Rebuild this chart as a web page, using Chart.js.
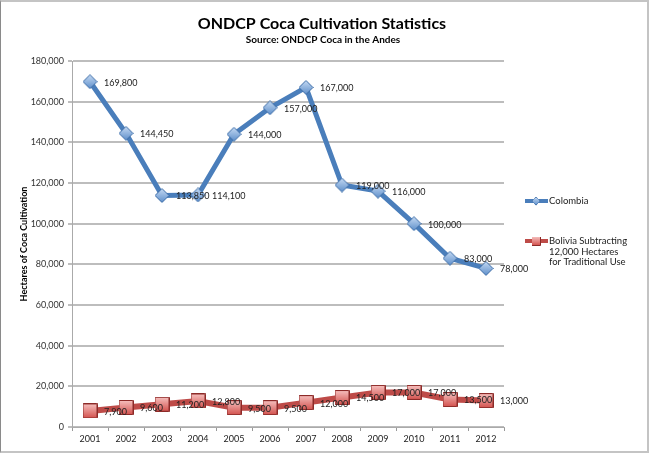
<!DOCTYPE html>
<html>
<head>
<meta charset="utf-8">
<script src="https://cdn.jsdelivr.net/npm/chart.js@4.4.0/dist/chart.umd.min.js"></script>
<style>
html, body { margin: 0; padding: 0; background: #fff; }
#wrap { position: relative; width: 649px; height: 453px; }
#frame {
    position: absolute; left: 0; top: 0; width: 649px; height: 453px;
    box-sizing: border-box; border: 2px solid #c4c4c4; border-left: 1px solid #8a8a8a;
    pointer-events: none;
}
</style>
</head>
<body>
<div id="wrap">
    <canvas id="chartData" width="649" height="453"></canvas>
    <div id="frame"></div>
</div>
<script>
var years = ['2001', '2002', '2003', '2004', '2005', '2006', '2007', '2008', '2009', '2010', '2011', '2012'];
var colombiaData = [169800, 144450, 113850, 114100, 144000, 157000, 167000, 119000, 116000, 100000, 83000, 78000];
var boliviaData = [7900, 9600, 11200, 12800, 9500, 9500, 12000, 14500, 17000, 17000, 13500, 13000];
var yMin = 0, yMax = 180000, yStep = 20000;
var titleText = 'ONDCP Coca Cultivation Statistics';
var subtitleText = 'Source: ONDCP Coca in the Andes';
var yTitle = 'Hectares of Coca Cultivation';
var legendLabels = [['Colombia'], ['Bolivia Subtracting', '12,000 Hectares', 'for Traditional Use']];

var FONT = 'Lato, "Open Sans", sans-serif';

function fmt(n) {
    return Number(n).toLocaleString('en-US');
}

// small shaded marker pictures, used as pointStyle
function makeMarker(size, shape, top, bottom, edge) {
    let cv = document.createElement('canvas');
    cv.width = size;
    cv.height = size;
    let g = cv.getContext('2d');
    let grad = g.createLinearGradient(0, 0, 0, size);
    grad.addColorStop(0, top);
    grad.addColorStop(1, bottom);
    g.beginPath();
    let h = size / 2;
    if (shape == 'diamond') {
        g.moveTo(h, 0.5);
        g.lineTo(size - 0.5, h);
        g.lineTo(h, size - 0.5);
        g.lineTo(0.5, h);
        g.closePath();
    } else {
        g.rect(0.5, 0.5, size - 1, size - 1);
    }
    g.fillStyle = grad;
    g.fill();
    g.strokeStyle = edge;
    g.lineWidth = 1;
    g.stroke();
    return cv;
}

var diamondImg = makeMarker(15, 'diamond', '#c9ddf5', '#5a8cc9', '#3c6ca6');
var squareImg = makeMarker(15, 'square', '#f7c3c1', '#d24f4b', '#8c2a28');

// value labels to the right of each point, on top of everything
var valueLabels = {
    id: 'valueLabels',
    afterDatasetsDraw(chart) {
        const c = chart.ctx;
        c.save();
        c.font = '9px ' + FONT;
        c.fillStyle = '#222';
        c.textAlign = 'left';
        c.textBaseline = 'middle';
        chart.data.datasets.forEach((ds, i) => {
            chart.getDatasetMeta(i).data.forEach((pt, j) => {
                c.fillText(fmt(ds.data[j]), pt.x + 14, pt.y + 1);
            });
        });
        c.restore();
    }
};

// titles and the legend on the right
var decor = {
    id: 'decor',
    afterDraw(chart) {
        const c = chart.ctx;
        c.save();
        c.fillStyle = '#000';
        c.textAlign = 'center';
        c.textBaseline = 'middle';
        c.font = 'bold 16px ' + FONT;
        c.fillText(titleText, 322, 24);
        c.font = 'bold 10px ' + FONT;
        c.fillText(subtitleText, 323, 40);

        let ys = [201, 241];
        chart.data.datasets.forEach((ds, i) => {
            let y = ys[i];
            c.strokeStyle = ds.borderColor;
            c.lineWidth = 4;
            c.beginPath();
            c.moveTo(525, y);
            c.lineTo(548, y);
            c.stroke();
            let s = i == 0 ? 9 : 9;
            c.drawImage(ds.pointStyle, 536 - s / 2, y - s / 2, s, s);
            c.fillStyle = '#222';
            c.textAlign = 'left';
            c.font = '9.5px ' + FONT;
            legendLabels[i].forEach((t, k) => {
                c.fillText(t, 549, y + k * 10.5);
            });
        });
        c.restore();
    }
};

var ctx = document.getElementById('chartData').getContext('2d');
var chartData = new Chart(ctx, {
    type: 'line',
    data: {
        labels: years,
        datasets: [{
            label: 'Colombia',
            data: colombiaData,
            borderColor: '#4a7ebb',
            borderWidth: 5,
            pointStyle: diamondImg,
            pointRadius: 7,
            tension: 0
        }, {
            label: 'Bolivia',
            data: boliviaData,
            borderColor: '#be4b48',
            borderWidth: 6,
            pointStyle: squareImg,
            pointRadius: 7,
            tension: 0
        }]
    },
    options: {
        responsive: false,
        animation: false,
        layout: { padding: { top: 61, right: 145, bottom: 0, left: 0 } },
        plugins: {
            legend: { display: false },
            tooltip: { enabled: false }
        },
        scales: {
            x: {
                offset: true,
                grid: { offset: true, drawOnChartArea: false, tickLength: 4, color: '#999' },
                border: { color: '#aaa', width: 1 },
                ticks: { color: '#222', font: { family: FONT, size: 9 }, padding: 3, maxRotation: 0, autoSkip: false },
                afterFit: s => { s.height = 26; }
            },
            y: {
                min: yMin,
                max: yMax,
                grid: { color: '#bdbdbd', lineWidth: 2, tickLength: 4 },
                border: { color: '#aaa', width: 1 },
                ticks: { stepSize: yStep, color: '#333', font: { family: FONT, size: 9 }, padding: 4, callback: v => fmt(v) },
                title: { display: true, text: yTitle, color: '#000', font: { family: FONT, size: 9, weight: 'bold' }, padding: { top: 19, bottom: 0 } },
                afterFit: s => { s.width = 72; }
            }
        }
    },
    plugins: [valueLabels, decor]
});
</script>
</body>
</html>
